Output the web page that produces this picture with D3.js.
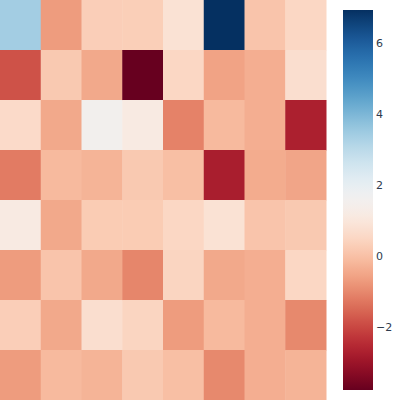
<!DOCTYPE html>
<html><head><meta charset="utf-8">
<script src="https://cdn.jsdelivr.net/npm/d3@7"></script>
<style>body{margin:0;background:#fff}svg{display:block}</style>
</head><body>
<svg id="c" width="400" height="400"></svg>
<script>
const rows = [0,1,2,3,4,5,6,7];
const cols = [0,1,2,3,4,5,6,7];
const row0 = [3.40, -0.68, 0.29, 0.30, 0.82, 6.92, 0.07, 0.50];
const row1 = [-1.85, 0.18, -0.46, -3.78, 0.50, -0.57, -0.36, 0.71];
const row2 = [0.60, -0.46, 1.55, 1.14, -1.10, -0.14, -0.36, -2.71];
const row3 = [-1.21, -0.14, -0.25, 0.18, -0.04, -2.76, -0.41, -0.52];
const row4 = [1.14, -0.46, 0.23, 0.23, 0.50, 0.82, 0.07, 0.18];
const row5 = [-0.68, 0.07, -0.46, -1.05, 0.45, -0.46, -0.36, 0.50];
const row6 = [0.29, -0.46, 0.71, 0.45, -0.68, -0.14, -0.36, -1.00];
const row7 = [-0.68, -0.14, -0.25, 0.18, -0.04, -1.00, -0.36, -0.25];
const values = [row0,row1,row2,row3,row4,row5,row6,row7];
const vmin = -3.78, vmax = 6.92;
const cbTicks = [-2, 0, 2, 4, 6];

const svg = d3.select("#c");
const color = d3.scaleSequential(d3.interpolateRdBu).domain([vmin, vmax]);
const x = d3.scaleBand().domain(cols).range([0, 326]);
const y = d3.scaleBand().domain(rows).range([0, 400]);

const cells = [];
values.forEach((r, i) => r.forEach((v, j) => cells.push({i, j, v})));
svg.append("g").selectAll("rect").data(cells).join("rect")
  .attr("x", d => x(d.j)).attr("y", d => y(d.i))
  .attr("width", x.bandwidth() + 0.5).attr("height", y.bandwidth() + 0.5)
  .attr("fill", d => color(d.v));

// colorbar
const cbX = 343, cbW = 30, cbTop = 10, cbBot = 390;
const cy = d3.scaleLinear().domain([vmin, vmax]).range([cbBot, cbTop]);
const defs = svg.append("defs");
const grad = defs.append("linearGradient").attr("id", "g")
  .attr("x1", 0).attr("y1", 1).attr("x2", 0).attr("y2", 0);
d3.range(0, 1.0001, 0.02).forEach(t => grad.append("stop")
  .attr("offset", t).attr("stop-color", d3.interpolateRdBu(t)));
svg.append("rect").attr("x", cbX).attr("y", cbTop).attr("width", cbW)
  .attr("height", cbBot - cbTop).attr("fill", "url(#g)");
const ax = svg.append("g").attr("transform", `translate(${cbX + cbW},0)`)
  .call(d3.axisRight(cy).tickValues(cbTicks).tickSize(0).tickPadding(3));
ax.select(".domain").remove();
ax.selectAll("text").attr("fill", "#2e3b4e").style("font-family", "DejaVu Sans").style("font-size", "11px");
</script>
</body></html>
